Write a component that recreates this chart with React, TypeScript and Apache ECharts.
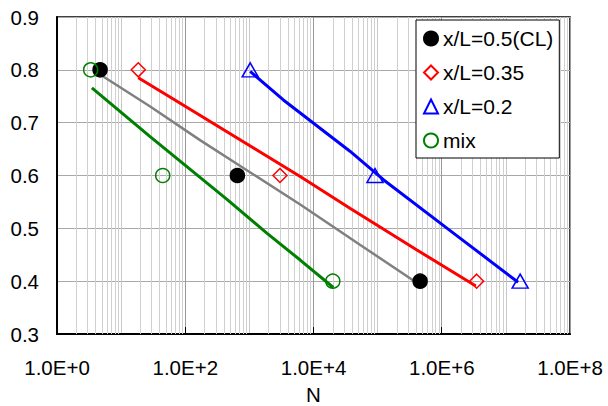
import React, { useEffect, useRef } from "react";
import * as echarts from "echarts";

// Measured points [N, value]
const clPoints: number[][] = [[4.7, 0.8], [650, 0.6], [4.6e5, 0.4]];
const x035Points: number[][] = [[18.5, 0.8], [3000, 0.6], [3.5e6, 0.4]];
const x02Points: number[][] = [[1030, 0.8], [9.1e4, 0.6], [1.67e7, 0.4]];
const mixPoints: number[][] = [[3.35, 0.8], [44.5, 0.6], [2.0e4, 0.4]];

// Simulated curves [N, value]
const grayLine: number[][] = [[4.2, 0.795], [28, 0.731], [170, 0.667], [6200, 0.545], [53000, 0.469], [4.3e5, 0.395]];
const redLine: number[][] = [[18.5, 0.785], [69, 0.743], [6200, 0.598], [37000, 0.538], [4.1e5, 0.459], [3.4e6, 0.391]];
const blueLine: number[][] = [[1030, 0.797], [3390, 0.743], [37000, 0.646], [1.23e5, 0.592], [1.52e6, 0.491], [1.55e7, 0.398]];
const greenLine: number[][] = [[3.5, 0.766], [28, 0.674], [457, 0.554], [1870, 0.491], [6200, 0.44], [20400, 0.388]];

const legendNames = ["x/L=0.5(CL)", "x/L=0.35", "x/L=0.2", "mix"];
const labeledDecades = [100, 10000, 1000000];

const FONT = "'Liberation Sans', Arial, sans-serif";

export default function App() {
  const ref = useRef<HTMLDivElement>(null);
  useEffect(() => {
    if (!ref.current) return;
    const chart = echarts.init(ref.current, null, { renderer: "svg" });
    const minor: any[] = [];
    for (let e = 0; e < 8; e++) {
      for (let m = 2; m <= 9; m++) minor.push({ xAxis: m * Math.pow(10, e) });
    }
    const ticks = labeledDecades.map((v) => [{ coord: [v, 0.3] }, { coord: [v, 0.313] }]);
    const lineSeries = (data: number[][], color: string, width: number, extra: any = {}) => ({
      type: "line",
      data,
      showSymbol: false,
      symbol: "none",
      lineStyle: { color, width },
      itemStyle: { color },
      silent: true,
      z: 2,
      ...extra,
    });
    const scatter = (name: string, data: number[][], symbol: string, size: any, fill: string, stroke: string) => ({
      type: "scatter",
      name,
      data,
      symbol,
      symbolSize: size,
      itemStyle: { color: fill, borderColor: stroke, borderWidth: 1.5, opacity: 1 },
      z: 4,
    });
    chart.setOption({
      animation: false,
      backgroundColor: "#fff",
      textStyle: { fontFamily: FONT },
      grid: {
        left: 57,
        right: 38,
        top: 17,
        bottom: 72,
        outerBoundsMode: "none",
        containLabel: false,
        show: true,
        borderColor: "#000",
        borderWidth: 1.5,
      },
      legend: {
        data: legendNames,
        orient: "vertical",
        left: 416,
        top: 20,
        padding: [8, 6, 7, 7],
        itemGap: 13,
        itemWidth: 14,
        itemHeight: 14,
        backgroundColor: "#fff",
        borderColor: "#000",
        borderWidth: 1,
        textStyle: { fontFamily: FONT, fontSize: 21, color: "#000" },
      },
      xAxis: {
        type: "log",
        logBase: 10,
        min: 1,
        max: 1e8,
        name: "N",
        nameLocation: "middle",
        nameGap: 50,
        nameTextStyle: { fontFamily: FONT, fontSize: 20.5, color: "#000" },
        axisLine: { show: true, onZero: false, lineStyle: { color: "#000", width: 2 } },
        axisTick: { show: false },
        axisLabel: {
          fontFamily: FONT,
          fontSize: 20.5,
          color: "#000",
          margin: 23,
          formatter: (v: number) => {
            const e = Math.round(Math.log10(v));
            return e % 2 === 0 ? `1.0E+${e}` : "";
          },
        },
        splitLine: { show: true, lineStyle: { color: ["#9a9a9a", "#c8c8c8"], width: 1 } },
      },
      yAxis: {
        type: "value",
        min: 0.3,
        max: 0.9,
        interval: 0.1,
        axisLine: { show: true, lineStyle: { color: "#000", width: 2 } },
        axisTick: { show: false },
        axisLabel: {
          fontFamily: FONT,
          fontSize: 20.5,
          color: "#000",
          margin: 18,
          formatter: (v: number) => v.toFixed(1),
        },
        splitLine: { show: true, lineStyle: { color: "#a8a8a8", width: 1 } },
      },
      series: [
        lineSeries(grayLine, "#808080", 2.5, {
          markLine: {
            silent: true,
            symbol: "none",
            z: 1,
            label: { show: false },
            lineStyle: { color: "#d0d0d0", width: 1, type: "solid" },
            data: minor,
          },
        }),
        lineSeries(redLine, "#ff0000", 3, {
          markLine: {
            silent: true,
            symbol: "none",
            z: 3,
            label: { show: false },
            lineStyle: { color: "#000", width: 1, type: "solid" },
            data: ticks,
          },
        }),
        lineSeries(blueLine, "#0000ff", 3),
        lineSeries(greenLine, "#008000", 3),
        scatter(legendNames[0], clPoints, "circle", 14, "#000", "#000"),
        scatter(legendNames[1], x035Points, "diamond", 14, "rgba(255,255,255,0)", "#ff0000"),
        scatter(legendNames[2], x02Points, "triangle", [16, 14], "rgba(255,255,255,0)", "#0000ff"),
        scatter(legendNames[3], mixPoints, "circle", 14, "rgba(255,255,255,0)", "#008000"),
      ],
    });
    return () => chart.dispose();
  }, []);
  return <div ref={ref} style={{ width: 608, height: 406, position: "absolute", left: 0, top: 0 }} />;
}
